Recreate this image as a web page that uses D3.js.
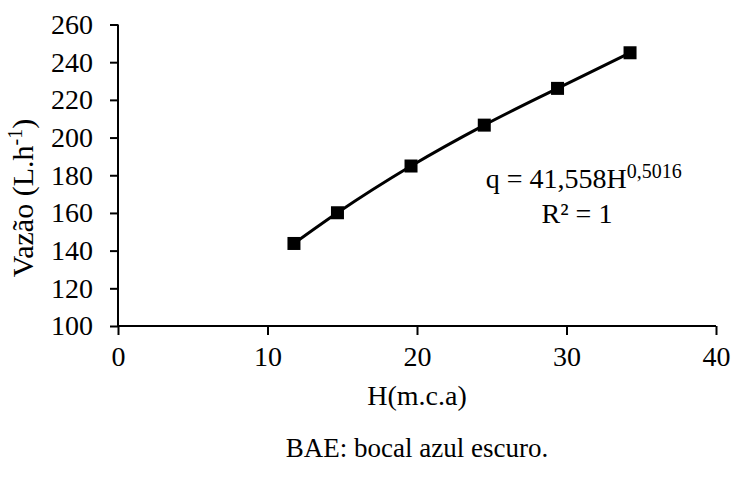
<!DOCTYPE html>
<html>
<head>
<meta charset="utf-8">
<script src="https://cdn.jsdelivr.net/npm/d3@7"></script>
<style>
  body { margin: 0; background: #fff; }
  svg text { font-family: "Liberation Serif", "Times New Roman", serif; fill: #000; }
</style>
</head>
<body>
<div id="chart"></div>
<script>
// Vazão x pressão - bocal azul escuro
const pressure = [11.77, 14.68, 19.6, 24.5, 29.4, 34.25];
const flow = [143.8, 160.1, 184.9, 206.6, 226.1, 245.0];
const xTicks = [0, 10, 20, 30, 40];
const yTicks = [100, 120, 140, 160, 180, 200, 220, 240, 260];

const W = 732, H = 479;
const margin = { top: 24.5, right: 16, bottom: 153, left: 118 };
const width = W - margin.left - margin.right;
const height = H - margin.top - margin.bottom;
const serif = "Liberation Serif";
const fs = 28;

const svg = d3.select("#chart")
    .append("svg")
    .attr("width", W)
    .attr("height", H);

const g = svg.append("g")
    .attr("transform", `translate(${margin.left},${margin.top})`);

const x = d3.scaleLinear().domain([0, 40]).range([0, width]);
const y = d3.scaleLinear().domain([100, 260]).range([height, 0]);

// Axes
const xAxis = g.append("g")
    .attr("transform", `translate(0,${height})`)
    .call(d3.axisBottom(x).tickValues(xTicks).tickSize(9).tickPadding(11));
const yAxis = g.append("g")
    .call(d3.axisLeft(y).tickValues(yTicks).tickSize(8).tickPadding(17));

[xAxis, yAxis].forEach(ax => {
    ax.attr("font-family", serif).attr("font-size", fs);
    ax.select(".domain").attr("stroke", "#000").attr("stroke-width", 2);
    ax.selectAll(".tick line").attr("stroke", "#000").attr("stroke-width", 2);
    ax.selectAll(".tick text").attr("fill", "#000");
});
// Excel style: domain without end ticks
xAxis.select(".domain").attr("d", `M0,0H${width}`);
yAxis.select(".domain").attr("d", `M0,0V${height}`);

// Series line
const line = d3.line()
    .x((d, i) => x(pressure[i]))
    .y(d => y(d))
    .curve(d3.curveMonotoneX);

g.append("path")
    .datum(flow)
    .attr("d", line)
    .attr("fill", "none")
    .attr("stroke", "#000")
    .attr("stroke-width", 3);

// Square markers
const ms = 13;
g.selectAll(".marker")
    .data(flow)
    .enter()
    .append("rect")
    .attr("class", "marker")
    .attr("x", (d, i) => x(pressure[i]) - ms / 2)
    .attr("y", d => y(d) - ms / 2)
    .attr("width", ms)
    .attr("height", ms)
    .attr("fill", "#000");

// Equation
const eq = g.append("text")
    .attr("x", x(24.6))
    .attr("y", y(173))
    .attr("font-family", serif)
    .attr("font-size", fs);
eq.append("tspan").text("q = 41,558H");
eq.append("tspan").attr("dy", -10).attr("font-size", 20).text("0,5016");

g.append("text")
    .attr("x", x(30.7))
    .attr("y", y(154.5))
    .attr("text-anchor", "middle")
    .attr("font-family", serif)
    .attr("font-size", fs)
    .text("R² = 1");

// Axis titles
svg.append("text")
    .attr("x", margin.left + width / 2)
    .attr("y", 405)
    .attr("text-anchor", "middle")
    .attr("font-family", serif)
    .attr("font-size", fs)
    .text("H(m.c.a)");

const yl = svg.append("text")
    .attr("transform", "translate(33,198) rotate(-90)")
    .attr("text-anchor", "middle")
    .attr("font-family", serif)
    .attr("font-size", 30);
yl.append("tspan").text("Vazão (L.h");
yl.append("tspan").attr("dy", -11).attr("font-size", 20).text("-1");
yl.append("tspan").attr("dy", 11).text(")");

// Caption
svg.append("text")
    .attr("x", margin.left + width / 2)
    .attr("y", 457)
    .attr("text-anchor", "middle")
    .attr("font-family", serif)
    .attr("font-size", 27)
    .text("BAE: bocal azul escuro.");
</script>
</body>
</html>
